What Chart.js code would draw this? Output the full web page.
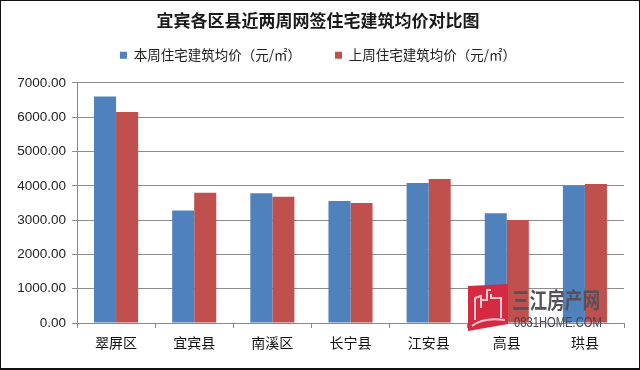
<!DOCTYPE html>
<html>
<head>
<meta charset="utf-8">
<script src="https://cdn.jsdelivr.net/npm/chart.js@4"></script>
<style>
html, body { margin: 0; padding: 0; background: #fff; overflow: hidden; }
#wrap { position: relative; width: 640px; height: 370px; }
#border { position: absolute; left: 0; top: 0; width: 640px; height: 370px; box-sizing: border-box;
  border: 1px solid #111; border-bottom-width: 2px; pointer-events: none; }
/* marca d'agua */
#logo { position: absolute; left: 467px; top: 284px; }
#mark1 { position: absolute; left: 512px; top: 284px; font: 700 22px/28px "Noto Sans CJK SC"; color: #55505a; white-space: nowrap; transform: scaleX(0.8); transform-origin: left top; }
#mark2 { position: absolute; left: 514px; top: 313px; font: 14px/18px "Liberation Sans"; color: #45454f; white-space: nowrap; transform: scaleX(0.8); transform-origin: left top; }
</style>
</head>
<body>
<div id="wrap">
  <canvas id="Grafico" width="640" height="370"></canvas>
  <svg id="logo" width="42" height="48" viewBox="0 0 42 48">
    <path d="M1 2 L41 0 L41 40 L1 47 Z" fill="#d62a42"/>
    <path d="M8 36 V14 L14 12 V24 M14 16 H20 V6 H24 M24 10 V14 H34 V34 M5 42 Q16 33 38 36" fill="none" stroke="#f6c9cf" stroke-width="2"/>
  </svg>
  <div id="mark1">三江房产网</div>
  <div id="mark2">0831HOME.COM</div>
  <div id="border"></div>
</div>
<script>
// Dados
const categorias = ['翠屏区', '宜宾县', '南溪区', '长宁县', '江安县', '高县', '珙县'];
const estaSemana = [6600, 3280, 3780, 3560, 4080, 3200, 4000];
const semanaPassada = [6150, 3800, 3680, 3500, 4200, 3000, 4050];
const nomeSerie1 = '本周住宅建筑均价（元/㎡）';
const nomeSerie2 = '上周住宅建筑均价（元/㎡）';
const titulo = '宜宾各区县近两周网签住宅建筑均价对比图';

const fonteCJK = '"Noto Sans CJK SC"';

// A legenda usa o mesmo padding na vertical: ajusta a altura depois do fit
const ajusteLegenda = {
    id: 'ajusteLegenda',
    beforeInit(chart) {
        const fitOriginal = chart.legend.fit;
        chart.legend.fit = function() {
            fitOriginal.call(this);
            this.height += 11;
        };
    }
};

new Chart(document.getElementById('Grafico').getContext('2d'), {
    type: 'bar',
    data: {
        labels: categorias,
        datasets: [
            { label: nomeSerie1, data: estaSemana, backgroundColor: '#4f81bd' },
            { label: nomeSerie2, data: semanaPassada, backgroundColor: '#c0504d' }
        ]
    },
    plugins: [ajusteLegenda],
    options: {
        responsive: false,
        animation: false,
        layout: { padding: { left: 12, right: 16, top: 0, bottom: 0 } },
        datasets: { bar: { categoryPercentage: 0.564, barPercentage: 1 } },
        plugins: {
            title: {
                display: true,
                text: titulo,
                color: '#1a1a1a',
                font: { family: fonteCJK, size: 17, weight: 'bold' },
                padding: { top: 10, bottom: -16 }
            },
            legend: {
                position: 'top',
                labels: {
                    boxWidth: 7,
                    boxHeight: 7,
                    padding: 34,
                    color: '#222',
                    font: { family: fonteCJK, size: 13.5 }
                }
            },
            tooltip: { enabled: false }
        },
        scales: {
            x: {
                grid: { display: true, drawOnChartArea: false, drawTicks: true, tickLength: 5, color: '#888', offset: true },
                border: { color: '#888' },
                ticks: { color: '#111', font: { family: fonteCJK, size: 14 }, padding: 6, maxRotation: 0 },
                afterFit: function(scale) { scale.height = 47; }
            },
            y: {
                min: 0,
                max: 7000,
                grid: { color: '#8c8c8c', tickLength: 5 },
                border: { color: '#888' },
                ticks: {
                    stepSize: 1000,
                    color: '#222',
                    font: { family: '"Liberation Sans"', size: 13.5 },
                    padding: 6,
                    callback: function(v) { return v.toFixed(2); }
                },
                afterFit: function(scale) { scale.width = 65; }
            }
        }
    }
});
</script>
</body>
</html>
